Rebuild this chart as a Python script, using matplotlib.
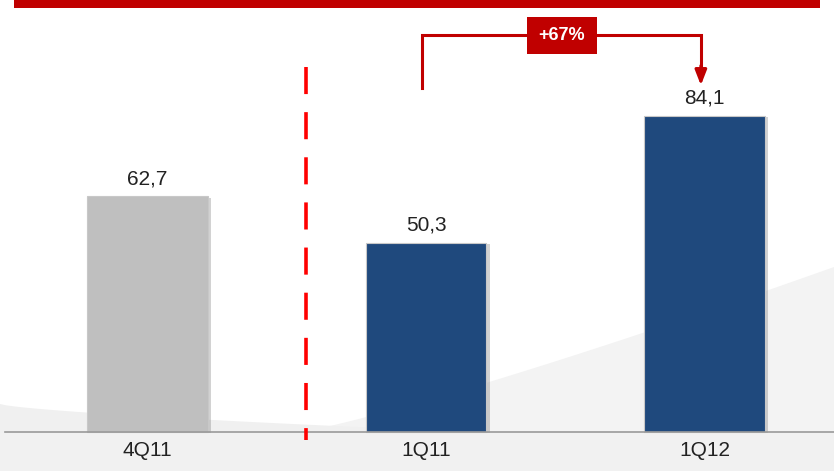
import matplotlib
matplotlib.use("Agg")
import matplotlib.pyplot as plt
import matplotlib.patheffects as pe
from matplotlib.patches import Rectangle, Polygon
import numpy as np

plt.rcParams['font.family'] = ['Liberation Sans Narrow', 'Liberation Sans', 'DejaVu Sans']

periods = ["4Q11", "1Q11", "1Q12"]
values = [62.7, 50.3, 84.1]
bar_colors = ["#BFBFBF", "#1F497D", "#1F497D"]

growth = values[2] / values[1] - 1

W, H = 834, 471
fig = plt.figure(figsize=(W / 100, H / 100), dpi=100)

# background layer in pixel units
bg = fig.add_axes([0, 0, 1, 1], zorder=0)
bg.set_xlim(0, W)
bg.set_ylim(H, 0)
bg.axis("off")

# soft grey swoosh behind the chart
t = np.linspace(0, 1, 60)
right_x = 300 + t * (W - 300)
right_y = 432 - 165 * t ** 1.15
bg.add_patch(Polygon(np.column_stack([np.r_[right_x, W, 300], np.r_[right_y, H, H]]),
                     closed=True, facecolor="#F3F3F3", edgecolor="none"))
left_x = t * 380
left_y = 404 + 24 * t ** 0.7
bg.add_patch(Polygon(np.column_stack([np.r_[left_x, 380, 0], np.r_[left_y, H, H]]),
                     closed=True, facecolor="#F0F0F0", edgecolor="none"))
bg.add_patch(Rectangle((0, 433), W, H - 433, facecolor="#F1F1F1", edgecolor="none"))

# red header band
bg.add_patch(Rectangle((14, 0), 806, 8, facecolor="#C00000", edgecolor="none"))

# main chart axes
ax = fig.add_axes([0, 0, 1, 1], zorder=1)
ax.patch.set_alpha(0)
ax.set_xlim(-0.5296, 2.465)
ax.set_ylim(-10.38, 115.0)
ax.axis("off")

x = np.arange(len(periods))
bars = ax.bar(x, values, width=0.434, color=bar_colors, edgecolor="#C8C8C8",
              linewidth=0.8, zorder=3)
for b in bars:
    b.set_path_effects([pe.SimplePatchShadow(offset=(2.5, -1.0), shadow_rgbFace="#808080",
                                             alpha=0.35), pe.Normal()])

for xi, v in zip(x, values):
    ax.text(xi, v + 2.2, f"{v:.1f}".replace(".", ","), ha="center", va="bottom",
            fontsize=15, color="#222222")

for xi, lab in zip(x, periods):
    ax.text(xi, -5.0, lab, ha="center", va="center", fontsize=15, color="#222222")

# baseline
ax.plot([-0.512, 2.465], [0, 0], color="#9A9A9A", linewidth=1.2, zorder=4)

# separator between the quarters
ax.plot([0.569, 0.569], [97.2, -2.1], color="#FF0000", linewidth=2.6,
        dashes=(7.5, 5.0), zorder=5)

# growth bracket
red = "#C00000"
y_top = 105.7
ax.plot([0.986, 0.986, 1.987, 1.987], [91.6, y_top, y_top, 97.0],
        color=red, linewidth=2.2, solid_joinstyle="miter", zorder=5)
ax.annotate("", xy=(1.987, 92.3), xytext=(1.987, 97.5),
            arrowprops=dict(arrowstyle="-|>,head_length=0.9,head_width=0.35",
                            color=red, linewidth=2.2, shrinkA=0, shrinkB=0), zorder=5)
ax.add_patch(Rectangle((1.488 - 0.1257, 105.5 - 4.92), 0.2514, 9.85,
                       facecolor=red, edgecolor="none", zorder=6))
ax.text(1.488, 105.5, f"+{growth * 100:.0f}%", ha="center", va="center",
        fontsize=13, fontweight="bold", color="white", family=["Liberation Sans", "DejaVu Sans"],
        zorder=7)

fig.savefig("out.png", dpi=100)
